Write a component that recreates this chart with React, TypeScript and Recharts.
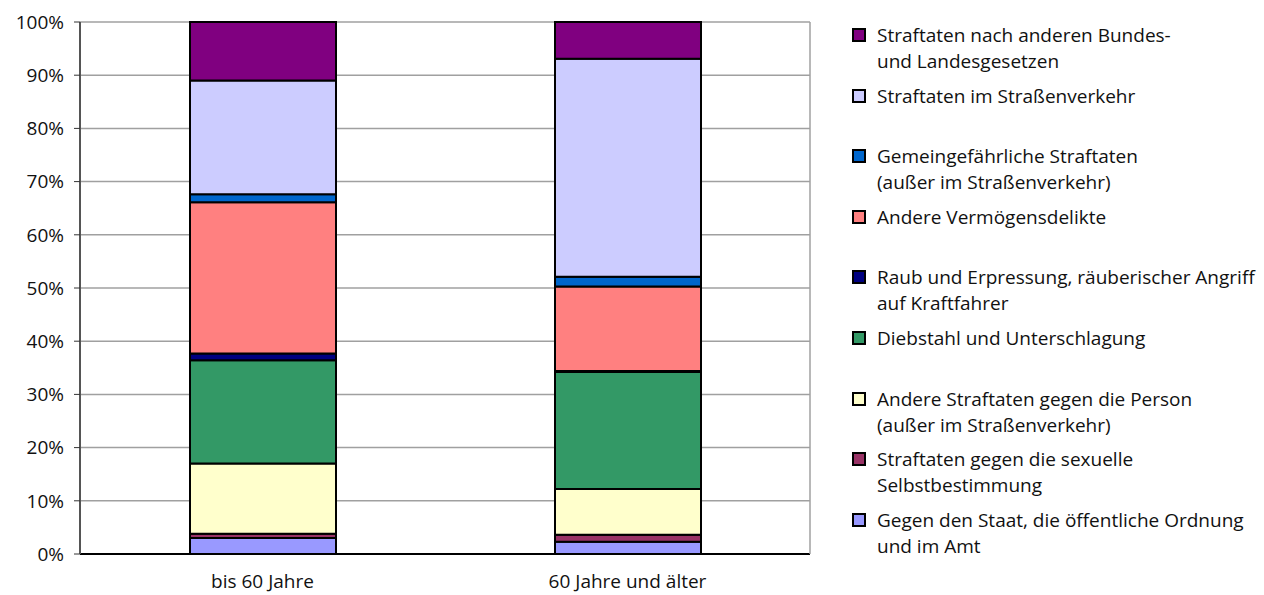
import React from 'react'
import { BarChart, Bar, XAxis, YAxis, CartesianGrid } from 'recharts'

const categories = ['bis 60 Jahre', '60 Jahre und älter']

// series from bottom of the stack to the top
const seriesKeys = ['staat', 'sexuell', 'person', 'diebstahl', 'raub', 'vermoegen', 'gemein', 'verkehr', 'andere']

const seriesNames = [
  'Gegen den Staat, die öffentliche Ordnung\nund im Amt',
  'Straftaten gegen die sexuelle\nSelbstbestimmung',
  'Andere Straftaten gegen die Person\n(außer im Straßenverkehr)',
  'Diebstahl und Unterschlagung',
  'Raub und Erpressung, räuberischer Angriff\nauf Kraftfahrer',
  'Andere Vermögensdelikte',
  'Gemeingefährliche Straftaten\n(außer im Straßenverkehr)',
  'Straftaten im Straßenverkehr',
  'Straftaten nach anderen Bundes-\nund Landesgesetzen',
]

const seriesColors = ['#9999FF', '#993366', '#FFFFCC', '#339966', '#000080', '#FF8080', '#0066CC', '#CCCCFF', '#800080']

// percent shares, one value per category
const staat = [3.0, 2.3]
const sexuell = [0.8, 1.3]
const person = [13.2, 8.6]
const diebstahl = [19.4, 22.0]
const raub = [1.3, 0.2]
const vermoegen = [28.4, 15.9]
const gemein = [1.5, 1.8]
const verkehr = [21.4, 41.0]
const andere = [11.0, 6.9]

const yTicks = [0, 10, 20, 30, 40, 50, 60, 70, 80, 90, 100]

const seriesValues = [staat, sexuell, person, diebstahl, raub, vermoegen, gemein, verkehr, andere]

const data = categories.map((name, i) => {
  const row: { [key: string]: string | number } = { name }
  seriesKeys.forEach((k, s) => {
    row[k] = seriesValues[s][i]
  })
  return row
})

const font = '"Open Sans", "Noto Sans", sans-serif'

const LegendBox = () => {
  const order = seriesKeys.map((_, i) => i).reverse()
  return (
    <div style={{ position: 'absolute', left: 851, top: 22, width: 413, fontFamily: font, fontSize: 19, color: '#111' }}>
      {order.map((i) => (
        <div key={seriesKeys[i]} style={{ position: 'relative', height: 60.6 }}>
          <div
            style={{
              position: 'absolute',
              left: 1,
              top: 6,
              width: 10,
              height: 10,
              background: seriesColors[i],
              border: '2px solid #000',
            }}
          />
          <div style={{ position: 'absolute', left: 26, top: 0, whiteSpace: 'pre', lineHeight: '26px' }}>
            {seriesNames[i]}
          </div>
        </div>
      ))}
    </div>
  )
}

export default function App() {
  return (
    <div style={{ position: 'absolute', left: 0, top: 0, width: 1264, height: 595, background: '#fff' }}>
      <BarChart
        width={814}
        height={595}
        data={data}
        barSize={146}
        margin={{ top: 22, right: 2, left: 0, bottom: 0 }}
      >
        <CartesianGrid vertical={false} stroke="#a0a0a0" strokeWidth={1.5} yAxisId="left" />
        <XAxis
          dataKey="name"
          height={41}
          tickLine={false}
          axisLine={{ stroke: '#000', strokeWidth: 2 }}
          tickMargin={15}
          tick={{ fill: '#111', fontFamily: font, fontSize: 19 }}
        />
        <YAxis
          yAxisId="left"
          width={80}
          domain={[0, 100]}
          ticks={yTicks}
          interval={0}
          tickFormatter={(v: number) => `${v}%`}
          axisLine={{ stroke: '#555', strokeWidth: 2 }}
          tickLine={{ stroke: '#333' }}
          tickSize={6}
          tickMargin={10}
          tick={{ fill: '#111', fontFamily: font, fontSize: 19 }}
        />
        <YAxis
          yAxisId="right"
          orientation="right"
          width={2}
          domain={[0, 100]}
          tick={false}
          tickLine={false}
          axisLine={{ stroke: '#a0a0a0', strokeWidth: 1.5 }}
        />
        {seriesKeys.map((k, i) => (
          <Bar
            key={k}
            yAxisId="left"
            dataKey={k}
            stackId="a"
            fill={seriesColors[i]}
            stroke="#000"
            strokeWidth={2}
            isAnimationActive={false}
          />
        ))}
      </BarChart>
      <LegendBox />
    </div>
  )
}
